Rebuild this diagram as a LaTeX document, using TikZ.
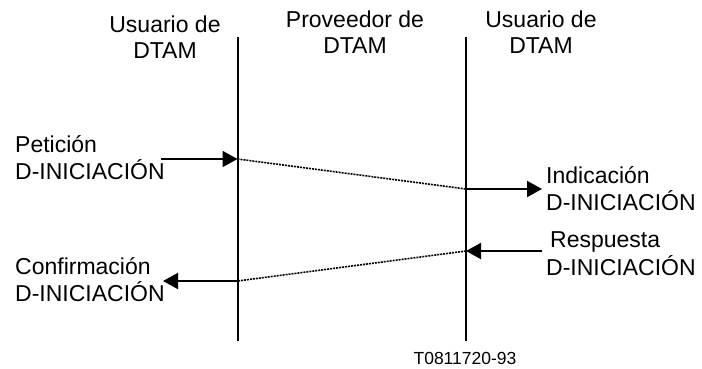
\documentclass[tikz,border=0pt]{standalone}
\usepackage{fontspec}
\setmainfont{Liberation Sans}
\usetikzlibrary{arrows.meta}
\tikzset{
  lifeline/.style={line width=2pt},
  msg/.style={line width=2pt,-{Triangle[length=15pt,width=16pt]}},
  relay/.style={line width=1.6pt,dash pattern=on 2pt off 1pt},
  header/.style={inner sep=0pt,anchor=base,font=\fontsize{23}{26.5}\selectfont},
  label/.style={inner sep=0pt,anchor=base west,font=\fontsize{23}{26.5}\selectfont},
  ref/.style={inner sep=0pt,anchor=base,font=\fontsize{17.5}{20}\selectfont}
}
\begin{document}
\begin{tikzpicture}[x=1pt,y=-1pt]
\useasboundingbox (0,0) rectangle (702,368);
% lifelines
\coordinate (L1top) at (237.5,37);
\coordinate (L1bot) at (237.5,341);
\coordinate (L2top) at (466,37);
\coordinate (L2bot) at (466,341);
\draw[lifeline] (L1top) -- (L1bot);
\draw[lifeline] (L2top) -- (L2bot);
% headers
\node[header] (h1) at (165,32) {\begin{tabular}[t]{@{}c@{}}Usuario de\\DTAM\end{tabular}};
\node[header] (h2) at (355,27) {\begin{tabular}[t]{@{}c@{}}Proveedor de\\DTAM\end{tabular}};
\node[header] (h3) at (541,27) {\begin{tabular}[t]{@{}c@{}}Usuario de\\DTAM\end{tabular}};
% primitive labels
\node[label] (pet) at (15,152) {\begin{tabular}[t]{@{}l@{}}Petición\\D-INICIACIÓN\end{tabular}};
\node[label] (ind) at (546,183) {\begin{tabular}[t]{@{}l@{}}Indicación\\D-INICIACIÓN\end{tabular}};
\node[label] (res) at (546,247.5) {\begin{tabular}[t]{@{}l@{}}\hspace{4pt}Respuesta\\D-INICIACIÓN\end{tabular}};
\node[label] (con) at (15,274) {\begin{tabular}[t]{@{}l@{}}Confirmación\\D-INICIACIÓN\end{tabular}};
% arrow end points
\coordinate (pA) at (161,159);
\coordinate (pB) at (237.5,159);
\coordinate (iA) at (466,189);
\coordinate (iB) at (542,189);
\coordinate (rA) at (542,251);
\coordinate (rB) at (466,251);
\coordinate (cA) at (237.5,281);
\coordinate (cB) at (163,281);
% arrows
\draw[msg] (pA) -- (pB);
\draw[msg] (iA) -- (iB);
\draw[msg] (rA) -- (rB);
\draw[msg] (cA) -- (cB);
% provider relays
\draw[relay] (pB) -- (iA);
\draw[relay] (rB) -- (cA);
% reference
\node[ref] (tref) at (465,364) {T0811720-93};
\end{tikzpicture}
\end{document}
